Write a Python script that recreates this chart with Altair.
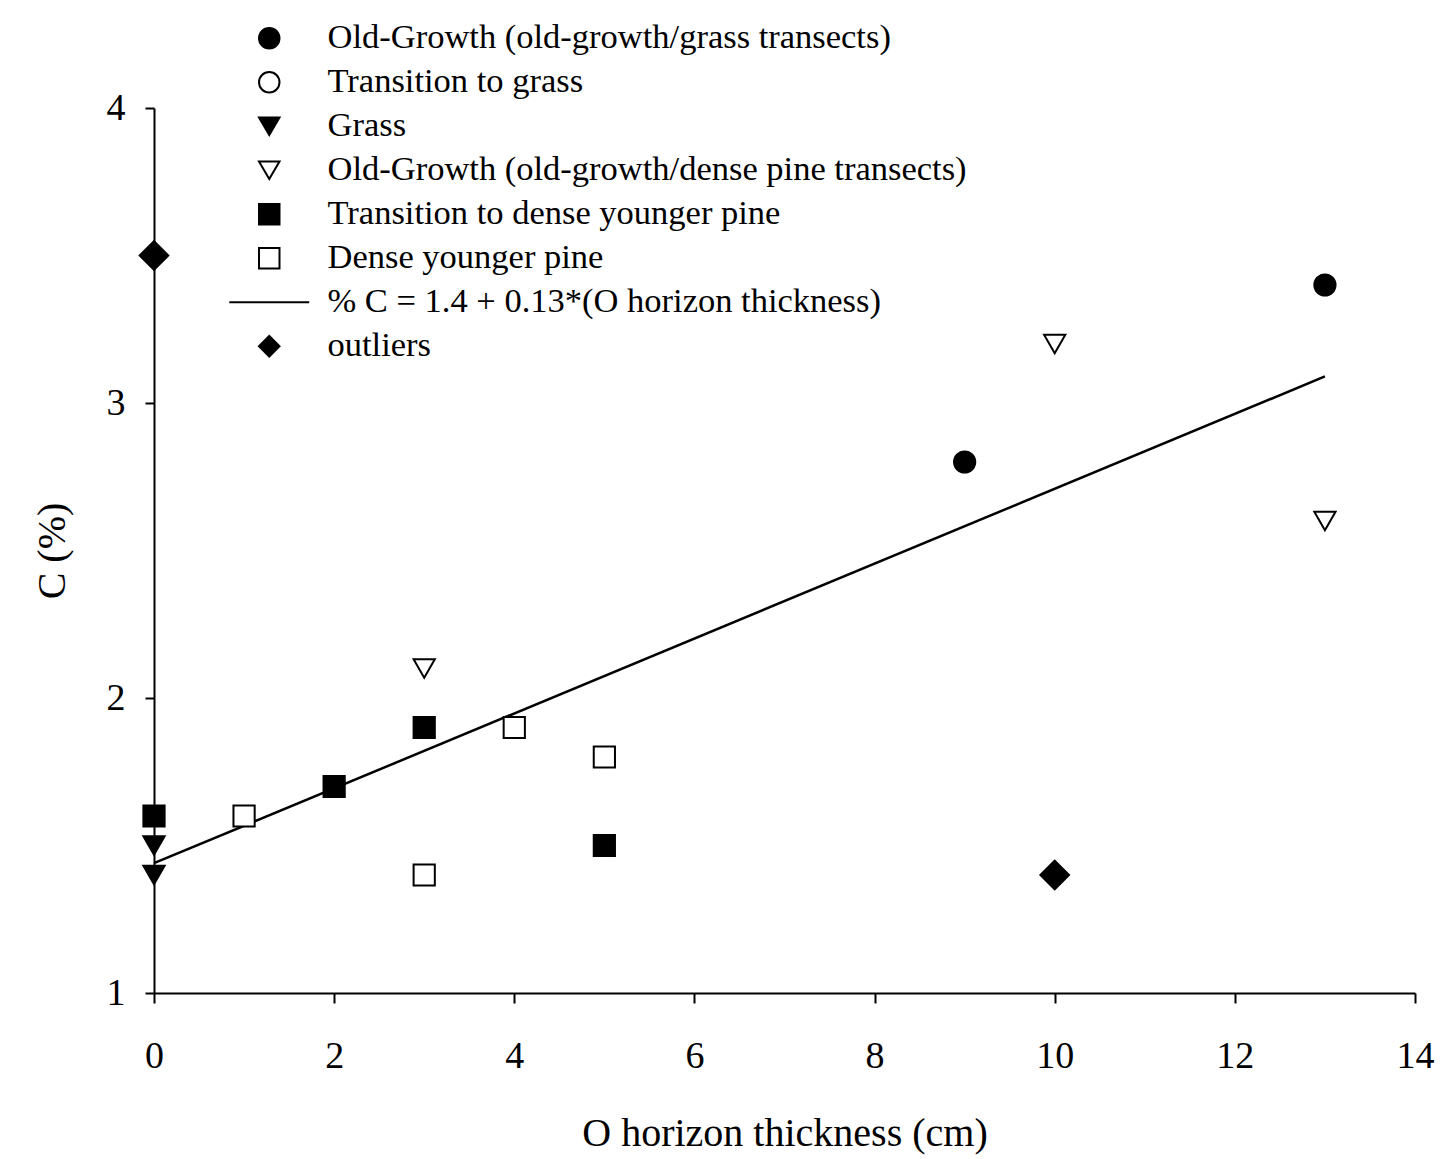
import altair as alt
import pandas as pd

series_names = [
    "Old-Growth (old-growth/grass transects)",
    "Transition to grass",
    "Grass",
    "Old-Growth (old-growth/dense pine transects)",
    "Transition to dense younger pine",
    "Dense younger pine",
    "% C = 1.4 + 0.13*(O horizon thickness)",
    "outliers",
]

og_grass_x = [9, 13]
og_grass_y = [2.8, 3.4]
trans_grass_x = []
trans_grass_y = []
grass_x = [0, 0]
grass_y = [1.5, 1.4]
og_pine_x = [3, 10, 13]
og_pine_y = [2.1, 3.2, 2.6]
trans_pine_x = [0, 2, 3, 5]
trans_pine_y = [1.6, 1.7, 1.9, 1.5]
dense_pine_x = [1, 3, 4, 5]
dense_pine_y = [1.6, 1.4, 1.9, 1.8]
outlier_x = [0, 10]
outlier_y = [3.5, 1.4]

fit_x = [0, 13]
fit_y = [1.44, 3.09]

x_ticks = [0, 2, 4, 6, 8, 10, 12, 14]
y_ticks = [1, 2, 3, 4]

shapes = ["circle", "circle", "triangle-down", "triangle-down", "square", "square",
          "M-3.9,0L3.9,0", "diamond"]
fills = ["black", "white", "black", "white", "black", "white", "transparent", "black"]
strokes = ["black"] * len(series_names)

rows = []
for name, xs, ys in [
    (series_names[0], og_grass_x, og_grass_y),
    (series_names[1], trans_grass_x, trans_grass_y),
    (series_names[2], grass_x, grass_y),
    (series_names[3], og_pine_x, og_pine_y),
    (series_names[4], trans_pine_x, trans_pine_y),
    (series_names[5], dense_pine_x, dense_pine_y),
]:
    for xv, yv in zip(xs, ys):
        rows.append({"series": name, "x": xv, "y": yv})
points_df = pd.DataFrame(rows)
outlier_df = pd.DataFrame({"series": [series_names[7]] * len(outlier_x),
                           "x": outlier_x, "y": outlier_y})
fit_df = pd.DataFrame({"x": fit_x, "y": fit_y})

FONT = "Liberation Serif"

xscale = alt.Scale(domain=[0, 14], nice=False, zero=False)
yscale = alt.Scale(domain=[1, 4], nice=False, zero=False)

xaxis = alt.Axis(values=x_ticks, title="O horizon thickness (cm)", grid=False,
                 labelPadding=34, titlePadding=38, tickSize=10, labelFlush=False)
yaxis = alt.Axis(values=y_ticks, title="C (%)", grid=False,
                 labelPadding=20, titlePadding=34, tickSize=9, labelFlush=False)

def make_legend():
    return alt.Legend(title=None, orient="none", legendX=98, legendY=-87,
                      symbolStrokeColor="black", symbolStrokeWidth=2,
                      symbolSize=420, labelOffset=41, rowPadding=9)

shape_enc = alt.Shape("series:N", scale=alt.Scale(domain=series_names, range=shapes),
                      legend=make_legend())
fill_enc = alt.Fill("series:N", scale=alt.Scale(domain=series_names, range=fills),
                    legend=make_legend())
stroke_enc = alt.Stroke("series:N", scale=alt.Scale(domain=series_names, range=strokes),
                        legend=make_legend())

line = alt.Chart(fit_df).mark_line(color="black", strokeWidth=2.5).encode(
    x=alt.X("x:Q", scale=xscale, axis=xaxis),
    y=alt.Y("y:Q", scale=yscale, axis=yaxis),
)

pts = alt.Chart(points_df).mark_point(filled=True, strokeWidth=2,
                                      opacity=1, size=450).encode(
    x=alt.X("x:Q", scale=xscale, axis=xaxis),
    y=alt.Y("y:Q", scale=yscale, axis=yaxis),
    shape=shape_enc,
    fill=fill_enc,
    stroke=stroke_enc,
)

outl = alt.Chart(outlier_df).mark_point(filled=True, strokeWidth=2,
                                        opacity=1, size=820).encode(
    x=alt.X("x:Q", scale=xscale, axis=xaxis),
    y=alt.Y("y:Q", scale=yscale, axis=yaxis),
    shape=shape_enc,
    fill=fill_enc,
    stroke=stroke_enc,
)

chart = alt.layer(line, pts, outl).properties(
    width=1261, height=885,
    autosize=alt.AutoSizeParams(type="none"),
    padding={"left": 146, "top": 100, "right": 24, "bottom": 162},
).configure_view(stroke=None).configure_axis(
    labelFont=FONT, titleFont=FONT, labelFontSize=38, titleFontSize=40,
    labelColor="black", titleColor="black", titleFontWeight="normal",
    domainColor="black", tickColor="black", domainWidth=2, tickWidth=2,
).configure_legend(
    labelFont=FONT, labelFontSize=34.5, labelColor="black", labelLimit=1000,
    padding=0,
)

chart.save("out.html", embed_options={"renderer": "svg", "actions": False})
